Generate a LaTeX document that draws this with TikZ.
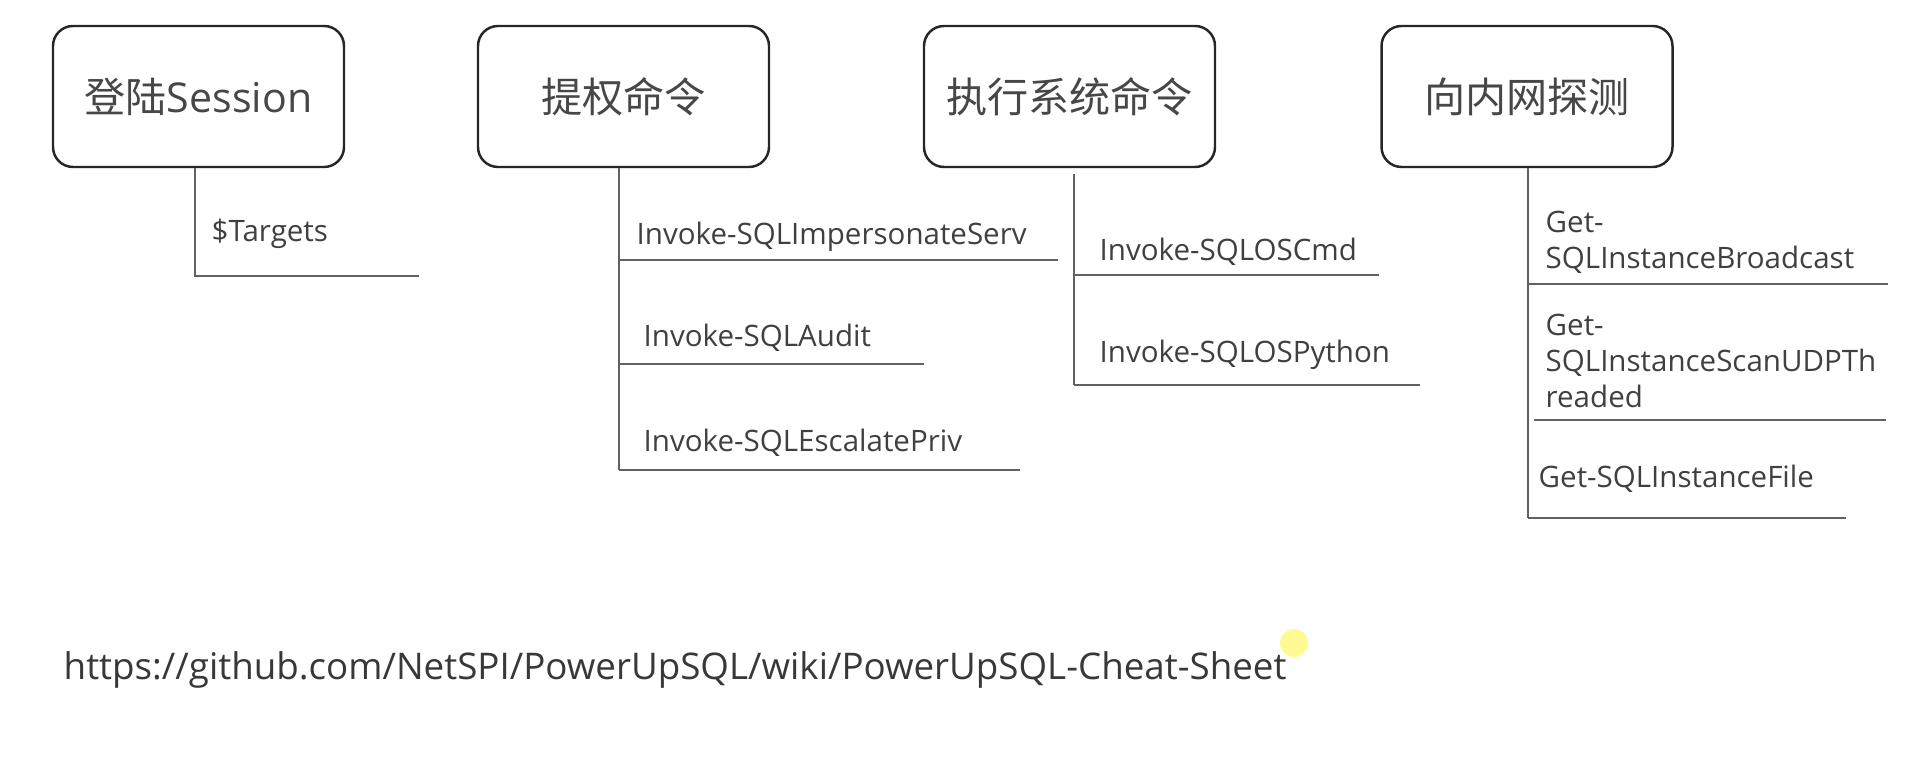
\documentclass[tikz,border=0pt]{standalone}
\usepackage{fontspec}
\setmainfont{Open Sans}
\newfontfamily\cjk{Noto Sans CJK SC}
\tikzset{
  cmdbox/.style={draw=black!85, line width=0.7pt, rounded corners=0.2cm,
    minimum width=2.91cm, minimum height=1.41cm, text=black!72,
    font=\fontsize{11.7}{13}\selectfont},
  cmdline/.style={draw=black!62, line width=0.45pt},
  cmdtext/.style={anchor=west, inner sep=0pt, text=black!75, align=left,
    font=\fontsize{8.4}{10.2}\selectfont}
}
\begin{document}
\begin{tikzpicture}
  \useasboundingbox (0,0) rectangle (19.14,-7.66);

  %登陆Session
  \node[cmdbox] (login) at (1.985,-0.965) {{\cjk 登陆}Session};
  \coordinate (tstem) at (1.95,-2.76);
  \coordinate (t1) at (4.19,-2.76);
  \draw[cmdline] (login.south -| tstem) -- (tstem) -- (t1);
  \node[cmdtext] (tgt) at (2.11,-2.34) {\$Targets};

  %提权命令
  \node[cmdbox] (priv) at (6.235,-0.965) {\cjk 提权命令};
  \coordinate (pstem) at (6.19,-4.70);
  \coordinate (p1) at (10.58,-2.60);
  \coordinate (p2) at (9.24,-3.64);
  \coordinate (p3) at (10.20,-4.70);
  \draw[cmdline] (priv.south -| pstem) -- (pstem); %縦線
  \draw[cmdline] (pstem |- p1) -- (p1);
  \draw[cmdline] (pstem |- p2) -- (p2);
  \draw[cmdline] (pstem) -- (p3);
  \node[cmdtext] (p1t) at (6.36,-2.37) {Invoke-SQLImpersonateServ};
  \node[cmdtext] (p2t) at (6.43,-3.38) {Invoke-SQLAudit};
  \node[cmdtext] (p3t) at (6.43,-4.43) {Invoke-SQLEscalatePriv};

  %执行系统命令
  \node[cmdbox] (exec) at (10.695,-0.965) {\cjk 执行系统命令};
  \coordinate (estem0) at (10.74,-1.74);
  \coordinate (estem) at (10.74,-3.85);
  \coordinate (e1) at (13.79,-2.75);
  \coordinate (e2) at (14.20,-3.85);
  \draw[cmdline] (estem0) -- (estem); %縦線
  \draw[cmdline] (estem |- e1) -- (e1);
  \draw[cmdline] (estem) -- (e2);
  \node[cmdtext] (e1t) at (10.99,-2.52) {Invoke-SQLOSCmd};
  \node[cmdtext] (e2t) at (10.99,-3.55) {Invoke-SQLOSPython};

  %向内网探测
  \node[cmdbox] (intra) at (15.27,-0.965) {\cjk 向内网探测};
  \coordinate (nstem) at (15.28,-5.18);
  \coordinate (n1) at (18.88,-2.84);
  \coordinate (n2a) at (15.34,-4.20);
  \coordinate (n2) at (18.86,-4.20);
  \coordinate (n3) at (18.46,-5.18);
  \draw[cmdline] (intra.south -| nstem) -- (nstem); %縦線
  \draw[cmdline] (nstem |- n1) -- (n1);
  \draw[cmdline] (n2a) -- (n2);
  \draw[cmdline] (nstem) -- (n3);
  \node[cmdtext] (n1t) at (15.45,-2.42) {Get-\\SQLInstanceBroadcast};
  \node[cmdtext] (n2t) at (15.45,-3.61) {Get-\\SQLInstanceScanUDPTh\\readed};
  \node[cmdtext] (n3t) at (15.38,-4.79) {Get-SQLInstanceFile};

  %URL
  \node[cmdtext, text=black!78, font=\fontsize{10.45}{12}\selectfont] (url) at (0.63,-6.70)
    {https://github.com/NetSPI/PowerUpSQL/wiki/PowerUpSQL-Cheat-Sheet};
  \node[circle, fill=yellow!70, opacity=0.6, minimum size=0.28cm, inner sep=0pt] (dot) at (12.94,-6.43) {};
\end{tikzpicture}
\end{document}
